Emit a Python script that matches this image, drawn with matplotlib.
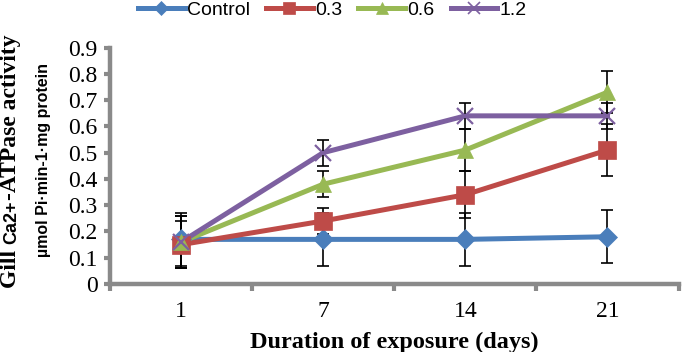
import matplotlib
matplotlib.use("Agg")
import matplotlib.pyplot as plt
import numpy as np

# data
days = ["1", "7", "14", "21"]
series_names = ["Control", "0.3", "0.6", "1.2"]
control = [0.17, 0.17, 0.17, 0.18]
conc_03 = [0.15, 0.24, 0.34, 0.51]
conc_06 = [0.16, 0.38, 0.51, 0.73]
conc_12 = [0.16, 0.50, 0.64, 0.64]
err_control = [0.10, 0.10, 0.10, 0.10]
err_03 = [0.09, 0.05, 0.09, 0.10]
err_06 = [0.10, 0.05, 0.08, 0.08]
err_12 = [0.10, 0.05, 0.05, 0.05]

colors = ["#4a7ebb", "#be4b48", "#98b954", "#7d60a0"]
markers = ["D", "s", "^", "x"]
msizes = [10, 13, 12, 12]
GRAY = "#8a8a8a"

fig = plt.figure(figsize=(6.85, 3.52), dpi=100)
ax = fig.add_axes([0.1606, 0.193, 0.83, 0.672])

x = np.arange(len(days))
for name, vals, errs, c, m, ms in zip(series_names,
                                      [control, conc_03, conc_06, conc_12],
                                      [err_control, err_03, err_06, err_12],
                                      colors, markers, msizes):
    # line under the error bars, markers on top
    ax.plot(x, vals, color=c, lw=3.6, zorder=2)
    ax.errorbar(x, vals, yerr=errs, fmt="none", ecolor="black",
                elinewidth=1.2, capsize=4, capthick=1.2, zorder=3)
    ax.plot(x, vals, ls="none", marker=m, markersize=ms, color=c,
            markeredgewidth=1.6 if m == "x" else 0.5, markeredgecolor=c,
            zorder=4)
    # legend proxy
    ax.plot([], [], color=c, lw=3.6, marker=m, markersize=ms * 0.7,
            markeredgewidth=1.2 if m == "x" else 0.5, markeredgecolor=c,
            label=name)

ax.set_xlim(-0.5, 3.5)
ax.set_ylim(0, 0.9)
ax.set_yticks(np.arange(0, 0.91, 0.1))
ax.set_yticklabels(["0"] + [f"{v:.1f}" for v in np.arange(0.1, 0.91, 0.1)])
ax.set_xticks(x)
ax.set_xticklabels(days)
ax.set_xticks(np.arange(-0.5, 3.6, 1), minor=True)

for s in ["top", "right"]:
    ax.spines[s].set_visible(False)
for s in ["left", "bottom"]:
    ax.spines[s].set_color(GRAY)
    ax.spines[s].set_linewidth(3.2)

ax.tick_params(axis="y", which="major", length=4, width=3, color=GRAY,
               labelsize=17, pad=5)
ax.tick_params(axis="x", which="major", length=0, labelsize=17, pad=12)
ax.tick_params(axis="x", which="minor", length=5, width=3, color=GRAY)
for lbl in ax.get_xticklabels() + ax.get_yticklabels():
    lbl.set_family("Liberation Serif")

ax.set_xlabel("Duration of exposure (days)", family="Liberation Serif",
              fontsize=17.5, fontweight="bold", labelpad=7)

# y label, first line: serif with a sans "Ca2+" inside
t1 = fig.text(0.030, 0.183, "Gill ", rotation=90, family="Liberation Serif",
              fontsize=17, fontweight="bold", ha="right", va="bottom")
t2 = fig.text(0, 0, "Ca2+", rotation=90, family="Liberation Sans",
              fontsize=13, fontweight="bold", ha="right", va="bottom")
t3 = fig.text(0, 0, "-ATPase activity", rotation=90,
              family="Liberation Serif", fontsize=17, fontweight="bold",
              ha="right", va="bottom")
fig.canvas.draw()
r = fig.canvas.get_renderer()
bb1 = t1.get_window_extent(r)
t2.set_position(fig.transFigure.inverted().transform((bb1.x1, bb1.y1)))
fig.canvas.draw()
bb2 = t2.get_window_extent(r)
t3.set_position(fig.transFigure.inverted().transform((bb1.x1, bb2.y1)))

fig.text(0.063, 0.545, "\u00b5mol Pi\u00b7min-1\u00b7mg protein", rotation=90,
         family="Liberation Sans", fontsize=11.5, fontweight="bold",
         ha="center", va="center")

fig.legend(loc="center", bbox_to_anchor=(0.485, 0.972), ncol=4,
           frameon=False, handlelength=2.4, handletextpad=0.1,
           columnspacing=0.85, borderaxespad=0,
           prop={"family": "Liberation Sans", "size": 14})

fig.savefig("out.png", dpi=100)
